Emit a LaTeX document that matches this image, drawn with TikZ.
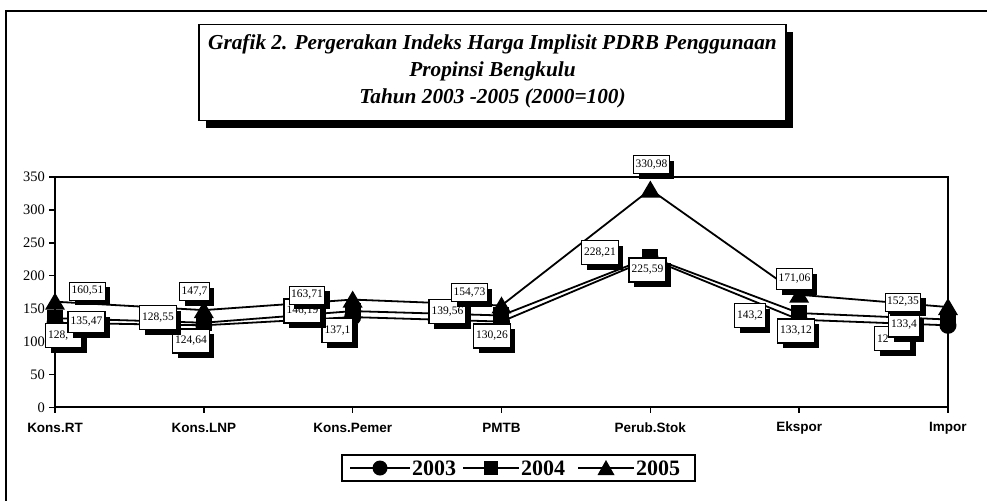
\documentclass[tikz,border=0pt]{standalone}
\usepackage{fontspec}
\setmainfont{Liberation Serif}
\setsansfont{Liberation Sans}
\usetikzlibrary{shadows}
\begin{document}
\begin{tikzpicture}[x=1pt,y=-1pt,
  shad/.style={drop shadow={shadow xshift=#1,shadow yshift=-#1,fill=black,opacity=1}},
  lab/.style={draw=black, line width=1.5pt, fill=white, font=\fontsize{11.5}{12}\selectfont,
    inner xsep=2.5pt, inner ysep=0pt, minimum height=24pt, shad=5pt},
  labt/.style={lab, line width=0.8pt, inner xsep=2pt, minimum height=18pt},
  serie/.style={line width=1.8pt, line join=round},
  ytl/.style={anchor=east, font=\fontsize{14.5}{15}\selectfont, inner sep=0pt},
  xtl/.style={font=\sffamily\bfseries\fontsize{13.5}{14}\selectfont, inner sep=0pt},
  legtext/.style={anchor=west, inner sep=0pt, font=\bfseries\fontsize{22}{22}\selectfont},
  mcirc/.pic={\fill[black] (0,0) circle (8.5);},
  msq/.pic={\fill[black] (-8,-8) rectangle (8,8);},
  mtri/.pic={\fill[black] (-10,8) -- (0,-9) -- (10,8) -- cycle;},
  lmcirc/.pic={\fill[black] (0,0) circle (7.5);},
  lmsq/.pic={\fill[black] (-7,-7) rectangle (7,7);},
  lmtri/.pic={\fill[black] (-8.5,7) -- (0,-8) -- (8.5,7) -- cycle;}
]
\useasboundingbox (0,0) rectangle (987,501);
% outer frame (only top and left visible)
\coordinate (fTR) at (987,11);
\coordinate (fTL) at (6,11);
\coordinate (fBL) at (6,501);
\draw[line width=2pt] (fTR) -- (fTL) -- (fBL);

% title
\node[draw, line width=1.5pt, fill=white, minimum width=587pt, minimum height=96pt, inner sep=0pt, shad=7pt] (titlebox) at (492.5,72.5) {};
\node[align=center, font=\bfseries\itshape\fontsize{21.3}{27}\selectfont, inner sep=0pt] (title) at (492.5,71.5)
  {Grafik 2. Pergerakan Indeks Harga Implisit PDRB Penggunaan\\Propinsi Bengkulu\\Tahun 2003 -2005 (2000=100)};

% plot frame
\coordinate (pTL) at (55,177);
\coordinate (pTR) at (948,177);
\coordinate (pBR) at (948,407.3);
\coordinate (pBL) at (55,407.3);
\draw[line width=1.2pt] (pTL) -- (pTR) -- (pBR);
\draw[line width=2.2pt] (pTL) -- (pBL) -- (pBR);

% y ticks
\foreach \v in {0,50,...,350} {
  \coordinate (yt\v) at (55,{407.3-0.658*\v});
  \draw[line width=1.5pt] (yt\v) -- ++(-6,0);
  \node[ytl] (yl\v) at (45,{407.3-0.658*\v}) {\v};
}
% x ticks and labels
\foreach \n [count=\i from 0] in {Kons.RT,Kons.LNP,Kons.Pemer,PMTB,Perub.Stok,Ekspor,Impor} {
  \coordinate (xt\i) at ({55+148.83*\i},407.3);
  \draw[line width=1.5pt] (xt\i) -- ++(0,6);
  \node[xtl] (xl\i) at ({55+148.83*\i},428) {\n};
}

% data points
\foreach \v [count=\i from 0] in {128.5,124.64,137.1,130.26,225.59,133.12,124.6}
  \coordinate (a\i) at ({55+148.83*\i},{407.3-0.658*\v});
\foreach \v [count=\i from 0] in {135.47,128.55,146.19,139.56,228.21,143.2,133.4}
  \coordinate (b\i) at ({55+148.83*\i},{407.3-0.658*\v});
\foreach \v [count=\i from 0] in {160.51,147.7,163.71,154.73,330.98,171.06,152.35}
  \coordinate (c\i) at ({55+148.83*\i},{407.3-0.658*\v});

% series 2003
\draw[serie] (a0) \foreach \i in {1,...,6} { -- (a\i) };
\foreach \i in {0,...,6} \pic at (a\i) {mcirc};
% series 2004
\draw[serie] (b0) \foreach \i in {1,...,6} { -- (b\i) };
\foreach \i in {0,...,6} \pic at (b\i) {msq};
% series 2005
\draw[serie] (c0) \foreach \i in {1,...,6} { -- (c\i) };
\foreach \i in {0,...,6} \pic at (c\i) {mtri};

% data labels 2003
\node[lab] (la0) at (63.5,335.5) {\makebox[31pt][l]{128,}};
\node[lab] (la1) at (191,341) {124,64};
\node[lab] (la2) at (337.5,330.5) {137,1};
\node[lab] (la3) at (492,336) {130,26};
\node[lab] (la4) at (647.5,270) {225,59};
\node[lab] (la5) at (796,331) {133,12};
\node[lab] (la6) at (892.5,338.5) {\makebox[31pt][l]{12}};
% data labels 2004
\node[lab, minimum height=21pt] (lb0) at (86.5,322) {135,47};
\node[lab] (lb1) at (158,317.5) {128,55};
\node[lab] (lb2) at (302.5,311) {146,19};
\node[lab] (lb3) at (447.5,311.5) {139,56};
\node[lab] (lb4) at (600,252.5) {228,21};
\node[lab] (lb5) at (750,315.5) {143,2};
\node[lab] (lb6) at (904,325) {133,4};
% data labels 2005
\node[labt] (lc0) at (87.5,291) {160,51};
\node[labt] (lc1) at (194.5,291.5) {147,7};
\node[labt] (lc2) at (307,295) {163,71};
\node[labt] (lc3) at (469.5,292.5) {154,73};
\node[labt] (lc4) at (651.5,164.5) {330,98};
\node[labt, minimum height=21pt] (lc5) at (794.5,279) {171,06};
\node[labt] (lc6) at (903,302) {152,35};

% legend
\node[draw, line width=1.5pt, fill=white, minimum width=353pt, minimum height=26pt, inner sep=0pt] (legend) at (518.5,468) {};
\coordinate (g1a) at (350,468); \coordinate (g1b) at (410,468);
\coordinate (g2a) at (463,468); \coordinate (g2b) at (519,468);
\coordinate (g3a) at (578,468); \coordinate (g3b) at (634,468);
\draw[line width=1.6pt] (g1a) -- (g1b);
\draw[line width=1.6pt] (g2a) -- (g2b);
\draw[line width=1.6pt] (g3a) -- (g3b);
\pic at (380,468) {lmcirc};
\pic at (491,468) {lmsq};
\pic at (606,468) {lmtri};
\node[legtext] (t1) at (412,468.5) {2003};
\node[legtext] (t2) at (521,468.5) {2004};
\node[legtext] (t3) at (636,468.5) {2005};
\end{tikzpicture}
\end{document}
